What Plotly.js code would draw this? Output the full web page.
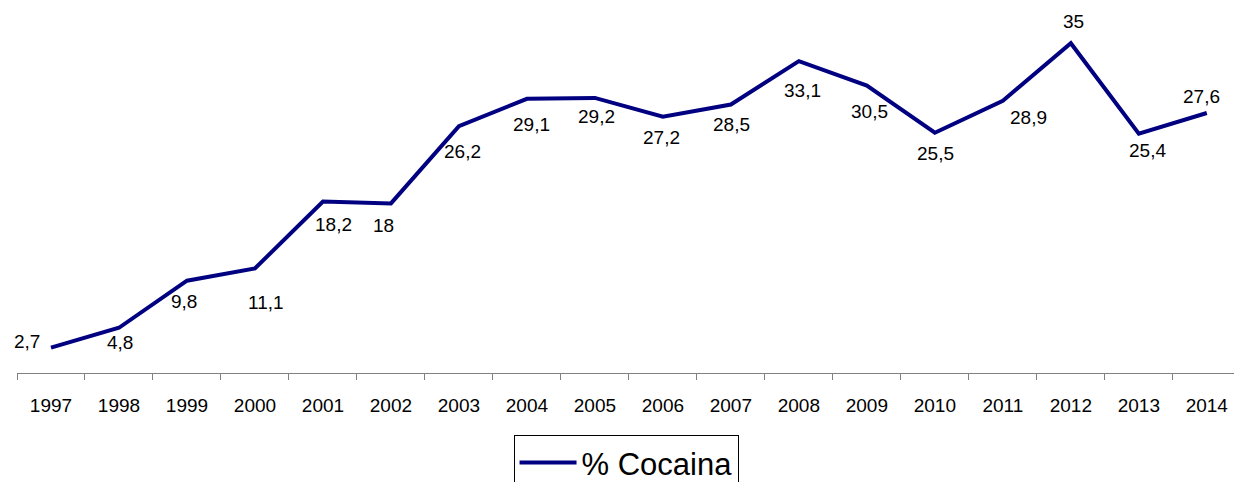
<!DOCTYPE html>
<html><head><meta charset="utf-8">
<script src="https://cdn.plot.ly/plotly-3.0.1.min.js"></script>
<style>html,body{margin:0;padding:0;background:#fff}#c{width:1234px;height:482px}</style>
</head><body><div id="c"></div>
<script>
const years = ['1997','1998','1999','2000','2001','2002','2003','2004','2005','2006','2007','2008','2009','2010','2011','2012','2013','2014'];
const cocaina = [2.7,4.8,9.8,11.1,18.2,18,26.2,29.1,29.2,27.2,28.5,33.1,30.5,25.5,28.9,35,25.4,27.6];
// label offsets in pixels (style only)
const labelDx = [-24, 1, -3, 11, 11, -7, 4, 5, 2, -1, 1, 4, 3, 1, 26, 3, 9, -5];
const labelDy = [6, -15, -21, -34, -23, -22, -25, -26, -19, -21, -20, -29, -26, -21, -17, 22, -17, 16];

const FONT = 'Liberation Sans, Arial, sans-serif';
const trace = {
  x: years, y: cocaina, type: 'scatter', mode: 'lines', name: '% Cocaina',
  line: {color: '#000080', width: 4}
};
const annotations = [];
for (let i = 0; i < years.length; i++) {
  annotations.push({
    x: i, y: cocaina[i], xref: 'x', yref: 'y', showarrow: false,
    text: String(cocaina[i]).replace('.', ','),
    xshift: labelDx[i], yshift: labelDy[i],
    xanchor: 'center', yanchor: 'middle',
    font: {family: FONT, size: 19, color: '#000'}
  });
}
const layout = {
  width: 1234, height: 482,
  margin: {l: 17, r: 0, t: 15, b: 109, autoexpand: false},
  paper_bgcolor: '#fff', plot_bgcolor: '#fff',
  font: {family: FONT, size: 19, color: '#000'},
  xaxis: {type: 'category', range: [-0.5, 17.4], tickson: 'boundaries', ticks: 'outside', ticklen: 6,
    tickcolor: '#808080', showline: true, linecolor: '#808080', linewidth: 1, showgrid: false, zeroline: false,
    tickfont: {size: 19}, ticklabelstandoff: 15, automargin: false},
  yaxis: {range: [0, 38], visible: false, showgrid: false, zeroline: false},
  annotations: annotations,
  showlegend: true,
  legend: {x: 0.408, y: -0.173, xanchor: 'left', yanchor: 'top', orientation: 'h', itemwidth: 57,
    bordercolor: '#000', borderwidth: 1, font: {size: 31}, bgcolor: '#fff'}
};
Plotly.newPlot('c', [trace], layout, {displayModeBar: false});
</script></body></html>
